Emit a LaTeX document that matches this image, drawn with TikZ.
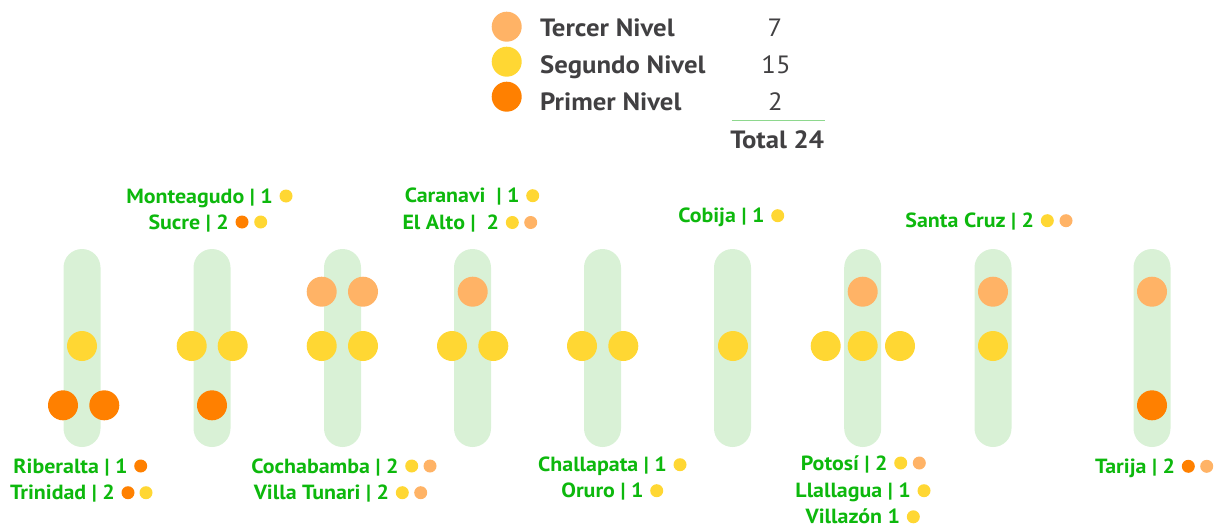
\documentclass[tikz,border=0pt]{standalone}
\usepackage{fontspec}
\setmainfont{PT Sans}[FakeStretch=1.07]
\definecolor{lor}{HTML}{FFB366}
\definecolor{yel}{HTML}{FFD733}
\definecolor{org}{HTML}{FF8000}
\definecolor{barc}{HTML}{D9F1D6}
\definecolor{lblg}{HTML}{0DB80D}
\definecolor{leg}{HTML}{414042}
\definecolor{linec}{HTML}{8ED88E}
\tikzset{
  bar/.style={rectangle, rounded corners=18.5pt, minimum width=37pt, minimum height=198pt, inner sep=0pt, fill=barc},
  dot/.style={circle, minimum size=30pt, inner sep=0pt, fill=#1},
  sdot/.style={circle, minimum size=13pt, inner sep=0pt, fill=#1},
  lbl/.style={font=\bfseries\fontsize{20.5}{24}\selectfont, text=lblg, inner sep=0pt, anchor=base east},
  legtxt/.style={font=\bfseries\fontsize{25}{30}\selectfont, text=leg, inner sep=0pt, anchor=base west},
  legnum/.style={font=\fontsize{25}{30}\selectfont, text=leg, inner sep=0pt, anchor=base},
}
\begin{document}
\begin{tikzpicture}[x=1pt,y=-1pt]
\useasboundingbox (0,0) rectangle (1214,527);
% legend
\node[dot=lor] (l1) at (506.7,26.7) {};
\node[dot=yel] (l2) at (506.7,61.7) {};
\node[dot=org] (l3) at (506.7,96.7) {};
\node[legtxt] (lt1) at (540,36.7) {Tercer Nivel};
\node[legtxt] (lt2) at (540,73.3) {Segundo Nivel};
\node[legtxt] (lt3) at (540,110) {Primer Nivel};
\node[legnum] (n1) at (775,36.7) {7};
\node[legnum] (n2) at (776,73.3) {15};
\node[legnum] (n3) at (775.5,110) {2};
\coordinate (ls) at (731.7,120.7);
\coordinate (le) at (825,120.7);
\draw[linec, line width=1.2pt] (ls) -- (le);
\node[font=\bfseries\fontsize{25}{30}\selectfont, text=leg, inner sep=0pt, anchor=base] (tot) at (777.2,148.3) {Total 24};
% bars
\foreach \i/\x in {1/82,2/212,3/342.5,4/472.5,5/602.5,6/732.5,7/862.7,8/993,9/1152}
  \node[bar] (b\i) at (\x,348) {};
% big dots
\node[dot=yel] (d1a) at (82,346) {};
\node[dot=org] (d1b) at (63,405.3) {};
\node[dot=org] (d1c) at (104.3,405.3) {};
\node[dot=yel] (d2a) at (191.7,346) {};
\node[dot=yel] (d2b) at (232.7,346) {};
\node[dot=org] (d2c) at (212,405.3) {};
\node[dot=lor] (d3a) at (321.7,291.7) {};
\node[dot=lor] (d3b) at (363,291.7) {};
\node[dot=yel] (d3c) at (321.7,346) {};
\node[dot=yel] (d3d) at (363,346) {};
\node[dot=lor] (d4a) at (472.7,291.7) {};
\node[dot=yel] (d4b) at (452,346) {};
\node[dot=yel] (d4c) at (493.3,346) {};
\node[dot=yel] (d5a) at (582,346) {};
\node[dot=yel] (d5b) at (623.3,346) {};
\node[dot=yel] (d6a) at (733,346) {};
\node[dot=lor] (d7a) at (862.7,291.7) {};
\node[dot=yel] (d7b) at (825.7,346) {};
\node[dot=yel] (d7c) at (862.7,346) {};
\node[dot=yel] (d7d) at (900,346) {};
\node[dot=lor] (d8a) at (993,291.7) {};
\node[dot=yel] (d8b) at (993,346) {};
\node[dot=lor] (d9a) at (1152,291.7) {};
\node[dot=org] (d9b) at (1152,405.3) {};
% labels top
\node[sdot=yel] (s1a) at (286,196) {};
\node[lbl] (t1) at ([shift={(-13,7)}]s1a.center) {Monteagudo | 1};
\node[sdot=org] (s2a) at (242,222) {};
\node[sdot=yel] (s2b) at (260.7,222) {};
\node[lbl] (t2) at ([shift={(-13,7)}]s2a.center) {Sucre | 2};
\node[sdot=yel] (s3a) at (532.7,195.7) {};
\node[lbl] (t3) at ([shift={(-13,7)}]s3a.center) {Caranavi \ | 1};
\node[sdot=yel] (s4a) at (512.3,222.5) {};
\node[sdot=lor] (s4b) at (530.7,222.5) {};
\node[lbl] (t4) at ([shift={(-13,7)}]s4a.center) {El Alto | \ 2};
\node[sdot=yel] (s5a) at (777.7,215.7) {};
\node[lbl] (t5) at ([shift={(-13,7)}]s5a.center) {Cobija | 1};
\node[sdot=yel] (s6a) at (1047.3,220.7) {};
\node[sdot=lor] (s6b) at (1066,220.7) {};
\node[lbl] (t6) at ([shift={(-13,7)}]s6a.center) {Santa Cruz | 2};
% labels bottom
\node[sdot=org] (s7a) at (140.7,466) {};
\node[lbl] (t7) at ([shift={(-13,7)}]s7a.center) {Riberalta | 1};
\node[sdot=org] (s8a) at (128,492.7) {};
\node[sdot=yel] (s8b) at (146,492.7) {};
\node[lbl] (t8) at ([shift={(-13,7)}]s8a.center) {Trinidad | 2};
\node[sdot=yel] (s9a) at (411.7,466) {};
\node[sdot=lor] (s9b) at (430,466) {};
\node[lbl] (t9) at ([shift={(-13,7)}]s9a.center) {Cochabamba | 2};
\node[sdot=yel] (s10a) at (402.3,492.7) {};
\node[sdot=lor] (s10b) at (420.7,492.7) {};
\node[lbl] (t10) at ([shift={(-13,7)}]s10a.center) {Villa Tunari | 2};
\node[sdot=yel] (s11a) at (680,464.7) {};
\node[lbl] (t11) at ([shift={(-13,7)}]s11a.center) {Challapata | 1};
\node[sdot=yel] (s12a) at (656.7,490.7) {};
\node[lbl] (t12) at ([shift={(-13,7)}]s12a.center) {Oruro | 1};
\node[sdot=yel] (s13a) at (900.7,463) {};
\node[sdot=lor] (s13b) at (919.3,463) {};
\node[lbl] (t13) at ([shift={(-13,7)}]s13a.center) {Potosí | 2};
\node[sdot=yel] (s14a) at (924,490.7) {};
\node[lbl] (t14) at ([shift={(-13,7)}]s14a.center) {Llallagua | 1};
\node[sdot=yel] (s15a) at (913.3,516.8) {};
\node[lbl] (t15) at ([shift={(-13,7)}]s15a.center) {Villazón 1};
\node[sdot=org] (s16a) at (1188.3,466.3) {};
\node[sdot=lor] (s16b) at (1206.7,466.3) {};
\node[lbl] (t16) at ([shift={(-13,7)}]s16a.center) {Tarija | 2};
\end{tikzpicture}
\end{document}
